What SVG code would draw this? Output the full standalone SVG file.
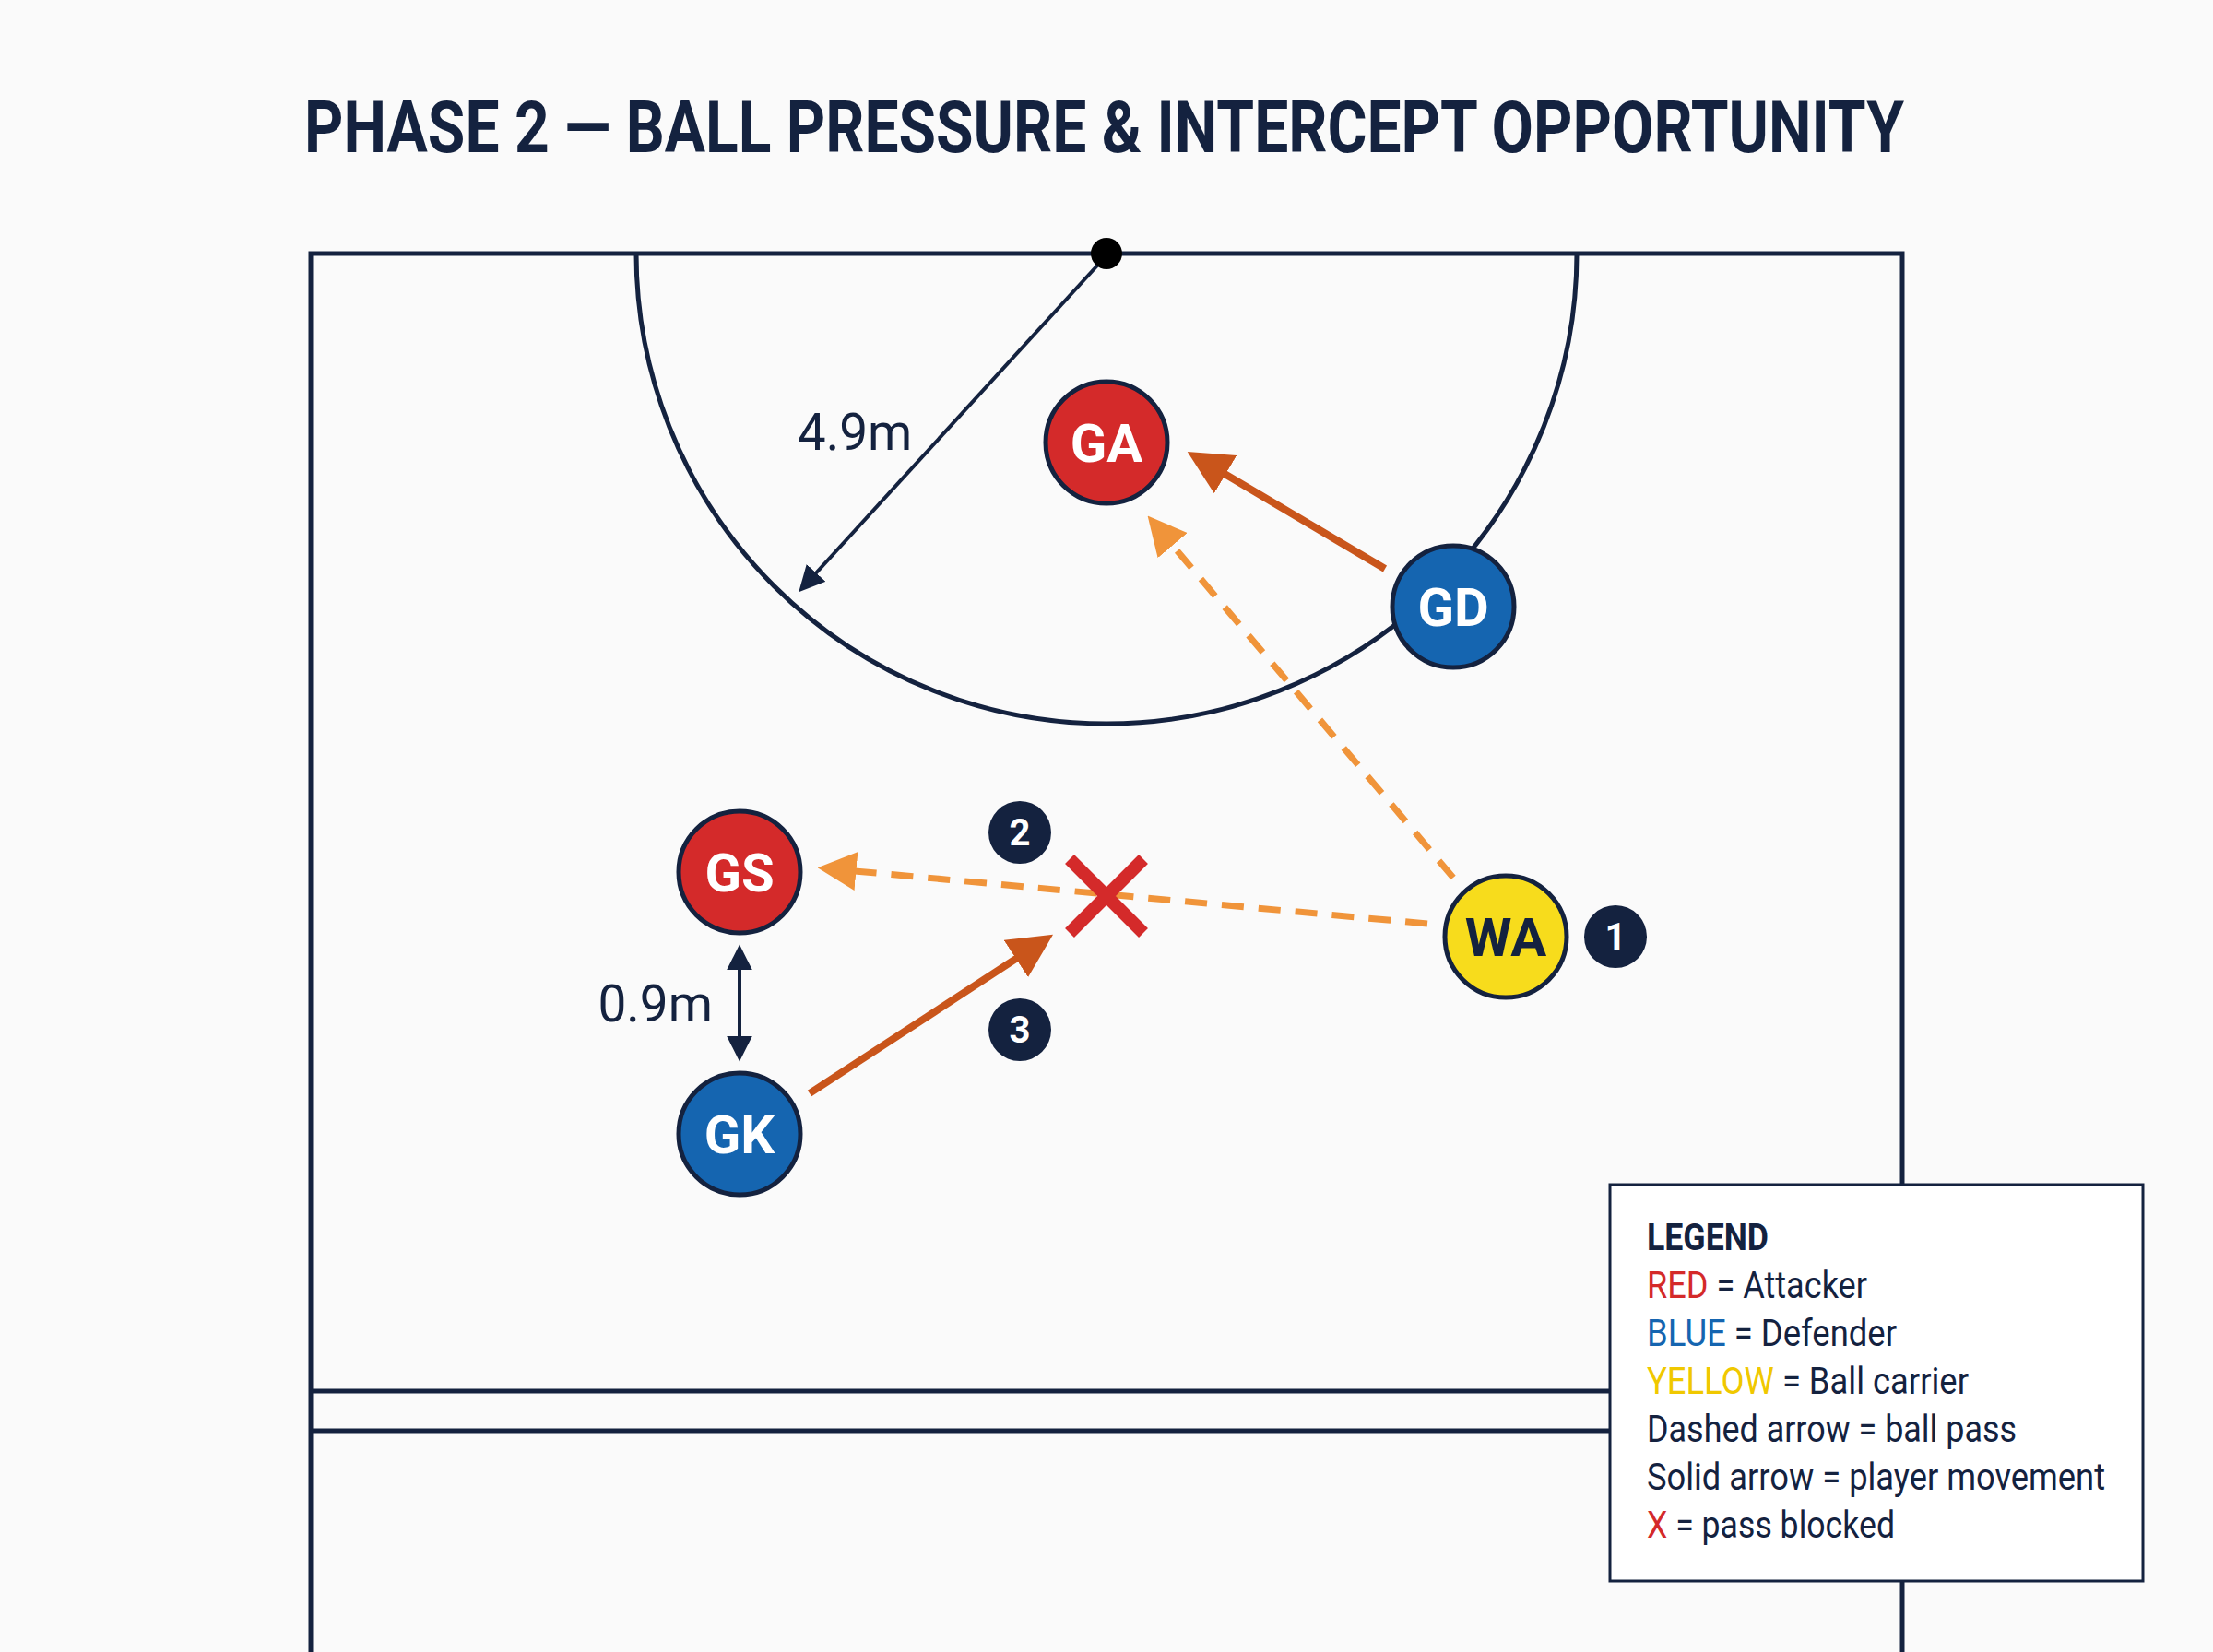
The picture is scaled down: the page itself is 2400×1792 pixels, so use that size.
<svg xmlns="http://www.w3.org/2000/svg" width="2400" height="1792" viewBox="0 0 2400 1792">
<defs>
<style>
.line{fill:none;stroke:#14223f;stroke-width:5}
.pl{stroke:#14223f;stroke-width:5}
.pt{font-family:Roboto,"Liberation Sans",sans-serif;font-weight:bold;font-size:58px;fill:#fff;text-anchor:middle}
.bd{font-family:Roboto,"Liberation Sans",sans-serif;font-weight:bold;font-size:40px;fill:#fff;text-anchor:middle}
.lab{font-family:Roboto,"Liberation Sans",sans-serif;font-size:55px;fill:#14223f}
.lg{font-family:Roboto,"Liberation Sans",sans-serif;font-size:40px;fill:#14223f}
.pass{fill:none;stroke:#f0943a;stroke-width:7;stroke-dasharray:24 16}
.move{fill:none;stroke:#c9551b;stroke-width:8}
</style>
<marker id="ao" viewBox="0 0 10 10" refX="8" refY="5" markerWidth="6" markerHeight="6" orient="auto"><path d="M0,0L10,5L0,10z" fill="#f0943a"/></marker>
<marker id="am" viewBox="0 0 10 10" refX="8" refY="5" markerWidth="6" markerHeight="6" orient="auto"><path d="M0,0L10,5L0,10z" fill="#c9551b"/></marker>
<marker id="ad" viewBox="0 0 10 10" refX="8" refY="5" markerWidth="7" markerHeight="7" orient="auto-start-reverse"><path d="M0,0L10,5L0,10z" fill="#14223f"/></marker>
</defs>
<rect width="2400" height="1792" fill="#fafafa"/>
<text x="330" y="165" font-family="Roboto,'Liberation Sans',sans-serif" font-weight="bold" font-size="78" fill="#14223f" textLength="1735" lengthAdjust="spacingAndGlyphs">PHASE 2 — BALL PRESSURE &amp; INTERCEPT OPPORTUNITY</text>
<g id="court">
<rect x="337" y="275" width="1726" height="1540" fill="#efefef" class="line"/>
<path d="M690,275 A510,510 0 0 0 1710,275" class="line"/>
<line x1="337" y1="1509" x2="2063" y2="1509" class="line"/>
<line x1="337" y1="1552" x2="2063" y2="1552" class="line"/>
<circle cx="1200" cy="275" r="17" fill="#000"/>
</g>
<g id="connectors">
<line x1="1190" y1="288" x2="870" y2="638" stroke="#14223f" stroke-width="4" marker-end="url(#ad)"/>
<text x="927" y="488" class="lab" text-anchor="middle">4.9m</text>
<line x1="802" y1="1030" x2="802" y2="1146" stroke="#14223f" stroke-width="4" marker-start="url(#ad)" marker-end="url(#ad)"/>
<text x="773" y="1108" class="lab" text-anchor="end">0.9m</text>
<line x1="1576" y1="952" x2="1250" y2="566" class="pass" marker-end="url(#ao)"/>
<line x1="1548" y1="1002" x2="895" y2="942" class="pass" marker-end="url(#ao)"/>
<line x1="1502" y1="617" x2="1296" y2="495" class="move" marker-end="url(#am)"/>
<line x1="878" y1="1186" x2="1134" y2="1019" class="move" marker-end="url(#am)"/>
<path d="M1160,932L1240,1012M1240,932L1160,1012" stroke="#d42a2a" stroke-width="14"/>
</g>
<g id="GA"><circle cx="1200" cy="480" r="66" fill="#d42a2a" class="pl"/><text x="1200" y="501" class="pt">GA</text></g>
<g id="GD"><circle cx="1576" cy="658" r="66" fill="#1565b0" class="pl"/><text x="1576" y="679" class="pt">GD</text></g>
<g id="GS"><circle cx="802" cy="946" r="66" fill="#d42a2a" class="pl"/><text x="802" y="967" class="pt">GS</text></g>
<g id="GK"><circle cx="802" cy="1230" r="66" fill="#1565b0" class="pl"/><text x="802" y="1251" class="pt">GK</text></g>
<g id="WA"><circle cx="1633" cy="1016" r="66" fill="#f7dc1c" class="pl"/><text x="1633" y="1037" class="pt" style="fill:#14223f">WA</text></g>
<g id="b1"><circle cx="1752" cy="1016" r="34" fill="#14223f"/><text x="1752" y="1030" class="bd">1</text></g>
<g id="b2"><circle cx="1106" cy="903" r="34" fill="#14223f"/><text x="1106" y="917" class="bd">2</text></g>
<g id="b3"><circle cx="1106" cy="1117" r="34" fill="#14223f"/><text x="1106" y="1131" class="bd">3</text></g>
<g id="legend">
<rect x="1746" y="1285" width="578" height="430" fill="#fff" stroke="#14223f" stroke-width="3"/>
<text x="1786" y="1356" class="lg" font-weight="bold" textLength="132" lengthAdjust="spacingAndGlyphs">LEGEND</text>
<text x="1786" y="1408" class="lg" textLength="239" lengthAdjust="spacingAndGlyphs"><tspan fill="#d42a2a">RED</tspan> = Attacker</text>
<text x="1786" y="1460" class="lg" textLength="271" lengthAdjust="spacingAndGlyphs"><tspan fill="#1565b0">BLUE</tspan> = Defender</text>
<text x="1786" y="1512" class="lg" textLength="349" lengthAdjust="spacingAndGlyphs"><tspan fill="#f0c800">YELLOW</tspan> = Ball carrier</text>
<text x="1786" y="1564" class="lg" textLength="401" lengthAdjust="spacingAndGlyphs">Dashed arrow = ball pass</text>
<text x="1786" y="1616" class="lg" textLength="497" lengthAdjust="spacingAndGlyphs">Solid arrow = player movement</text>
<text x="1786" y="1668" class="lg" textLength="269" lengthAdjust="spacingAndGlyphs"><tspan fill="#d42a2a">X</tspan> = pass blocked</text>
</g>
</svg>
